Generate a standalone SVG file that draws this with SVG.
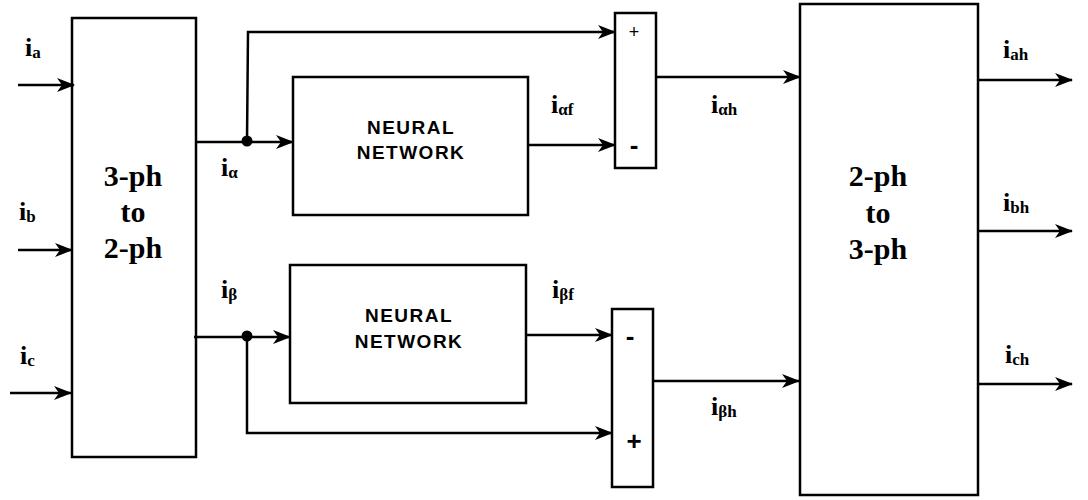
<svg xmlns="http://www.w3.org/2000/svg" width="1088" height="500" viewBox="0 0 1088 500">
<style>
.box{fill:#fff;stroke:#000;stroke-width:2.5}
.ln{fill:none;stroke:#000;stroke-width:2.5}
.blk{font-family:"Liberation Serif",serif;font-weight:bold;font-size:30px;text-anchor:middle}
.nn{font-family:"Liberation Sans",sans-serif;font-weight:bold;font-size:19px;letter-spacing:1.5px;text-anchor:middle}
.lb{font-family:"Liberation Serif",serif;font-weight:bold;font-size:26px}
.sb{font-size:17px}
.sg{font-family:"Liberation Sans",sans-serif;font-weight:bold;font-size:26px;text-anchor:middle}
</style>
<defs>
<marker id="ah" markerWidth="18" markerHeight="14" refX="17" refY="7" orient="auto" markerUnits="userSpaceOnUse">
<path d="M0,0 L18,7 L0,14 L5,7 z" fill="#000"/>
</marker>
</defs>
<rect width="1088" height="500" fill="#fff"/>
<g id="conv32">
<rect class="box" x="72" y="18" width="124" height="439"/>
<text class="blk" x="133" y="186">3-ph</text>
<text class="blk" x="133" y="222">to</text>
<text class="blk" x="133" y="258">2-ph</text>
</g>
<g id="nn1">
<rect class="box" x="293" y="77" width="235" height="138"/>
<text class="nn" x="411" y="134">NEURAL</text>
<text class="nn" x="411" y="159">NETWORK</text>
</g>
<g id="nn2">
<rect class="box" x="290" y="265" width="236" height="138"/>
<text class="nn" x="409" y="322">NEURAL</text>
<text class="nn" x="409" y="348">NETWORK</text>
</g>
<g id="sum1">
<rect class="box" x="615" y="13" width="41" height="155"/>
<text class="sg" x="634" y="38" style="font-weight:normal;font-size:18px">+</text>
<text class="sg" x="634" y="154">-</text>
</g>
<g id="sum2">
<rect class="box" x="612" y="309" width="41" height="178"/>
<text class="sg" x="630" y="345">-</text>
<text class="sg" x="634" y="450">+</text>
</g>
<g id="conv23">
<rect class="box" x="800" y="4" width="178" height="491"/>
<text class="blk" x="878" y="186">2-ph</text>
<text class="blk" x="878" y="223">to</text>
<text class="blk" x="878" y="259">3-ph</text>
</g>
<g id="connectors">
<line class="ln" x1="18" y1="85" x2="74" y2="85" marker-end="url(#ah)"/>
<line class="ln" x1="18" y1="250" x2="72" y2="250" marker-end="url(#ah)"/>
<line class="ln" x1="10" y1="393" x2="71" y2="393" marker-end="url(#ah)"/>
<line class="ln" x1="196" y1="142" x2="293" y2="142" marker-end="url(#ah)"/>
<polyline class="ln" points="247,142 248,32 615,32" marker-end="url(#ah)"/>
<circle cx="247" cy="141" r="5.5" fill="#000"/>
<line class="ln" x1="528" y1="145" x2="615" y2="145" marker-end="url(#ah)"/>
<line class="ln" x1="656" y1="77" x2="800" y2="77" marker-end="url(#ah)"/>
<line class="ln" x1="194" y1="337" x2="290" y2="337" marker-end="url(#ah)"/>
<polyline class="ln" points="247,337 247,433 612,433" marker-end="url(#ah)"/>
<circle cx="247" cy="336" r="5.5" fill="#000"/>
<line class="ln" x1="526" y1="335" x2="612" y2="335" marker-end="url(#ah)"/>
<line class="ln" x1="653" y1="381" x2="799" y2="381" marker-end="url(#ah)"/>
<line class="ln" x1="978" y1="80" x2="1072" y2="80" marker-end="url(#ah)"/>
<line class="ln" x1="978" y1="231" x2="1072" y2="231" marker-end="url(#ah)"/>
<line class="ln" x1="978" y1="384" x2="1072" y2="384" marker-end="url(#ah)"/>
</g>
<g id="labels">
<text class="lb" x="25" y="56">i<tspan class="sb" dy="2">a</tspan></text>
<text class="lb" x="19" y="220">i<tspan class="sb" dy="2">b</tspan></text>
<text class="lb" x="20" y="364">i<tspan class="sb" dy="2">c</tspan></text>
<text class="lb" x="221" y="176">i<tspan class="sb" dy="2">α</tspan></text>
<text class="lb" x="221" y="298">i<tspan class="sb" dy="2">β</tspan></text>
<text class="lb" x="551" y="113">i<tspan class="sb" dy="2">αf</tspan></text>
<text class="lb" x="552" y="298">i<tspan class="sb" dy="2">βf</tspan></text>
<text class="lb" x="711" y="113">i<tspan class="sb" dy="2">αh</tspan></text>
<text class="lb" x="711" y="415">i<tspan class="sb" dy="2">βh</tspan></text>
<text class="lb" x="1003" y="58">i<tspan class="sb" dy="2">ah</tspan></text>
<text class="lb" x="1003" y="211">i<tspan class="sb" dy="2">bh</tspan></text>
<text class="lb" x="1005" y="363">i<tspan class="sb" dy="2">ch</tspan></text>
</g>
</svg>
